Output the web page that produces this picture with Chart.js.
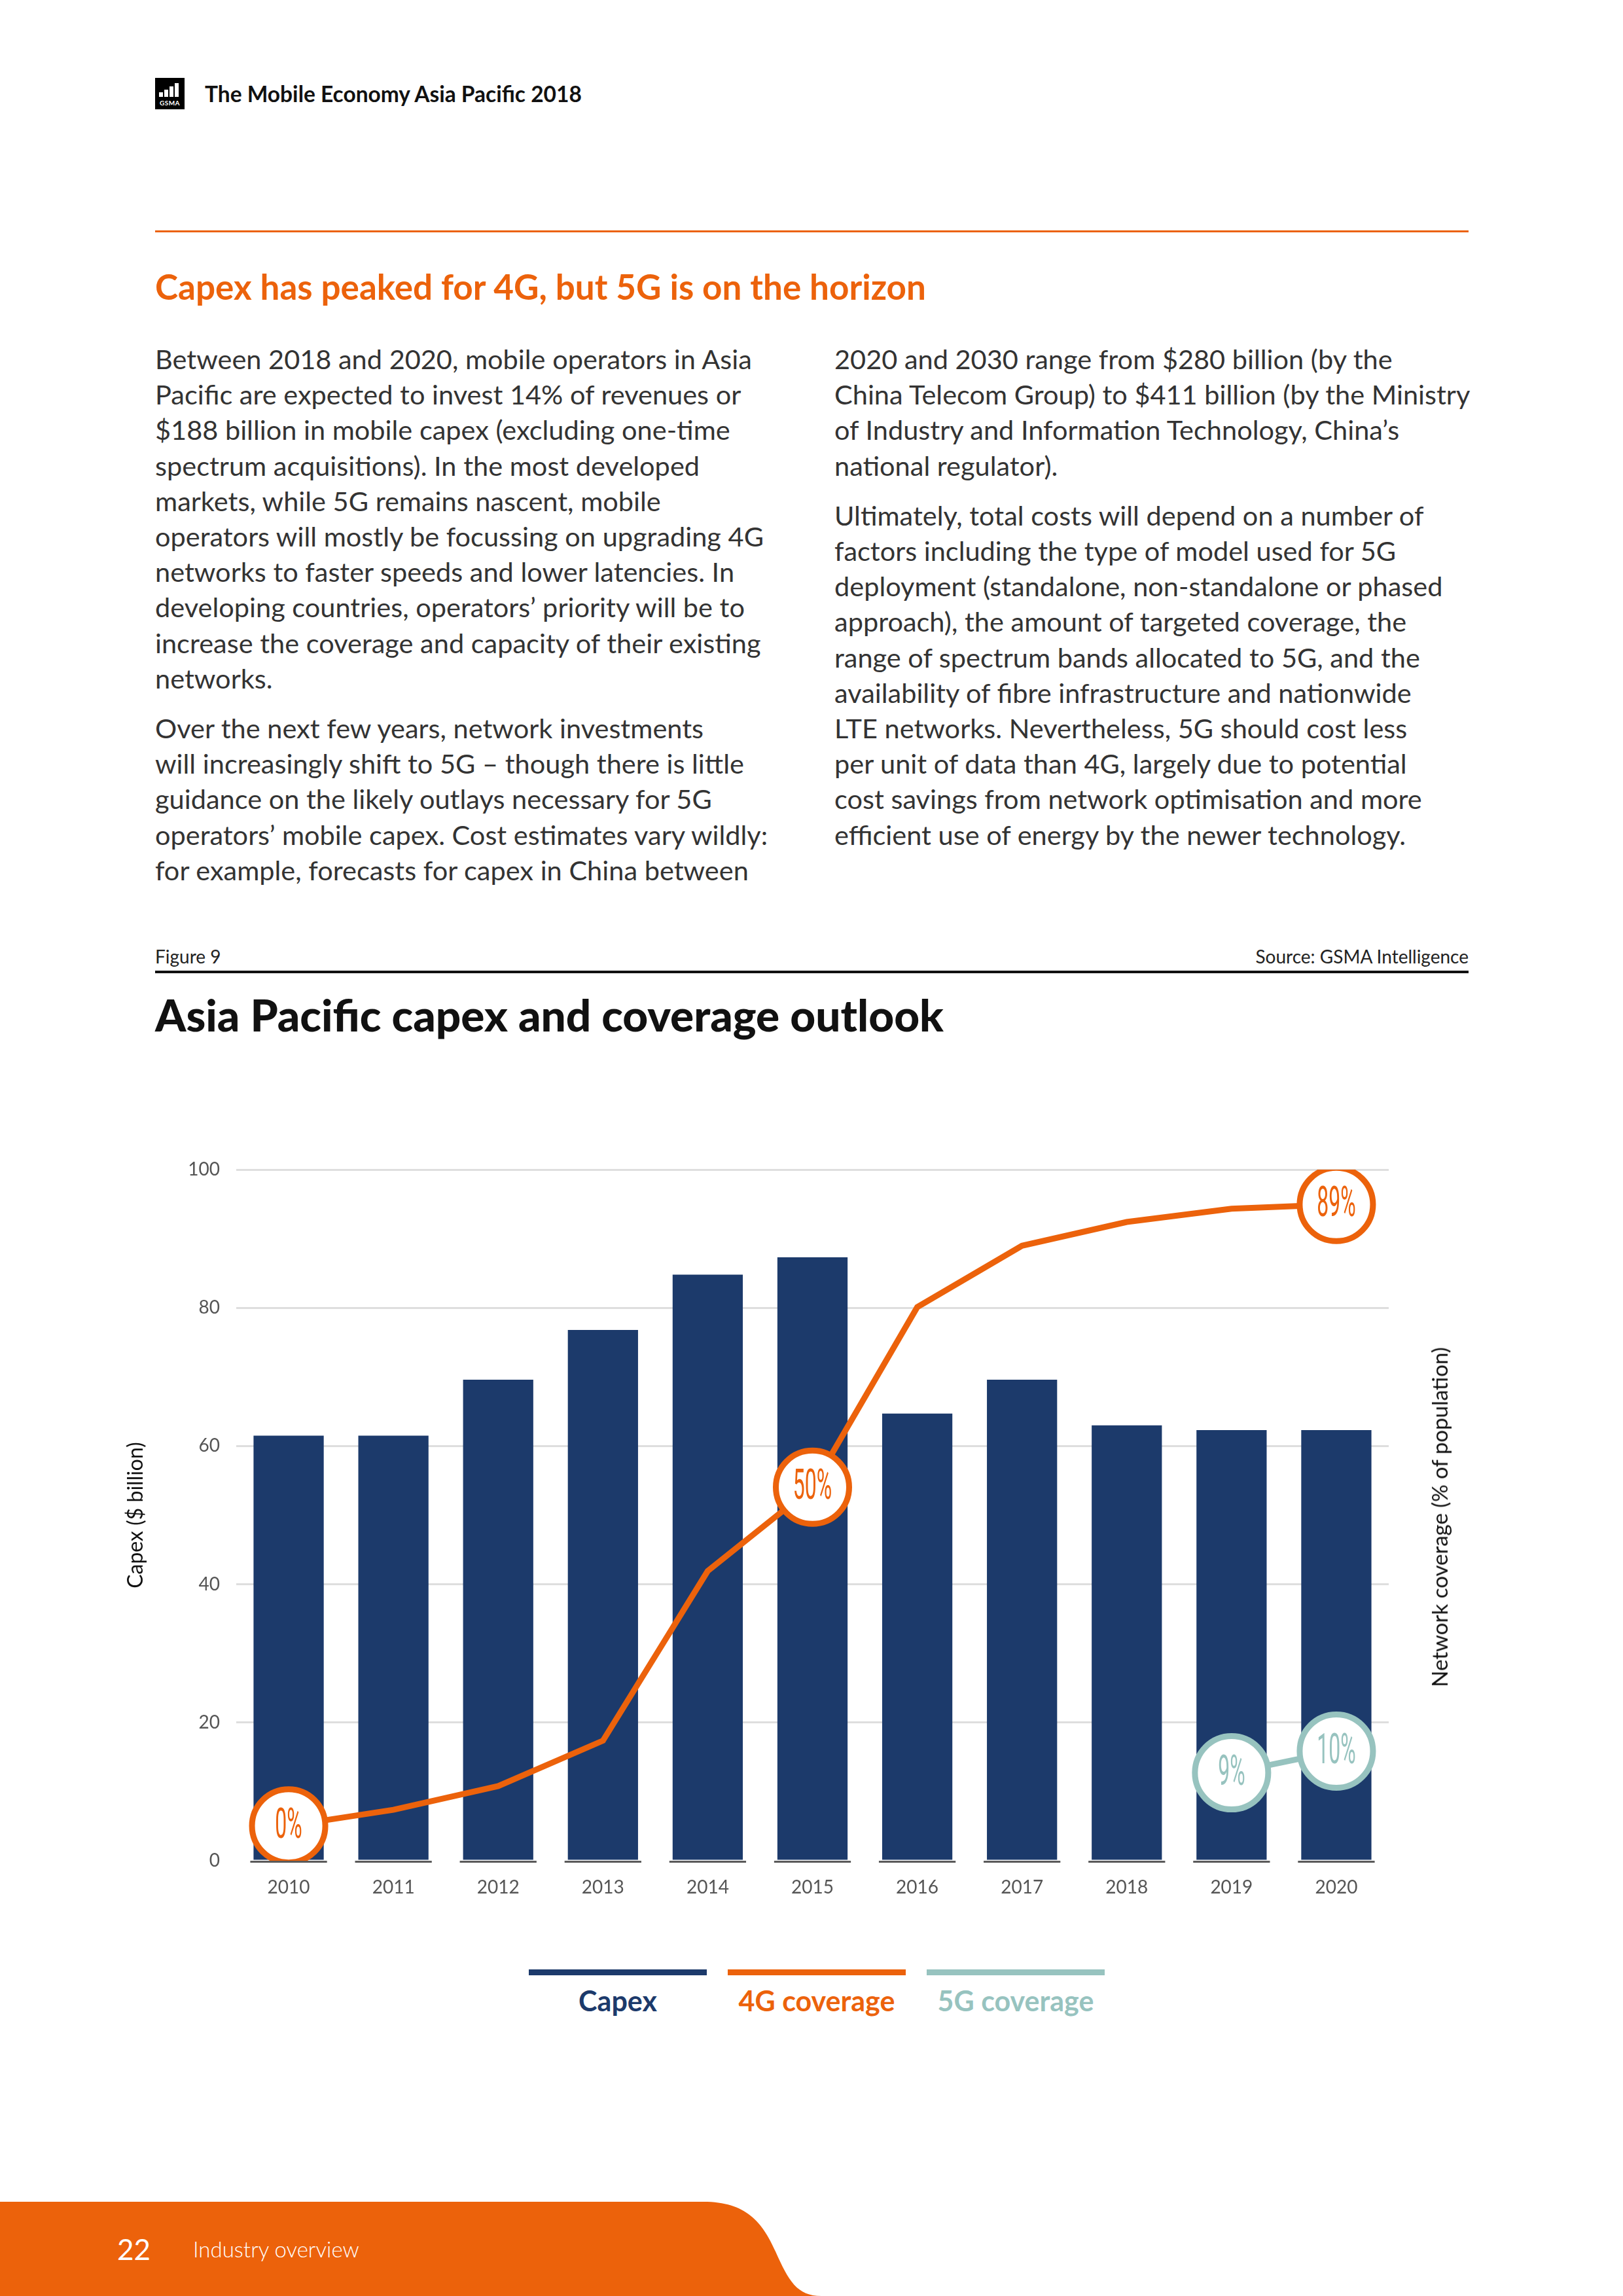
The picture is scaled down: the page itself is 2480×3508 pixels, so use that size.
<!DOCTYPE html>
<html>
<head>
<meta charset="utf-8">
<script src="https://cdn.jsdelivr.net/npm/chart.js@4.4.1/dist/chart.umd.min.js"></script>
<style>
html, body { margin: 0; padding: 0; background: #fff; }
body { width: 2480px; height: 3508px; position: relative; overflow: hidden; font-family: Lato, "Noto Sans", sans-serif; color: #222; }
.abs { position: absolute; }
.logo { left: 237px; top: 119px; width: 45px; height: 48px; background: #000; }
.logo i { position: absolute; bottom: 19px; width: 6px; background: #fff; }
.logo span { position: absolute; left: 0; right: 0; bottom: 4px; text-align: center; color: #fff; font: 700 10px Lato, sans-serif; letter-spacing: 0.5px; }
.header { left: 313px; top: 122px; font-size: 33.5px; font-weight: 700; color: #111; line-height: 42px; }
.rule-o { left: 237px; top: 352px; width: 2007px; height: 3px; background: #ec620b; }
.heading { left: 237px; top: 406px; font-size: 53px; font-weight: 700; color: #ec620b; line-height: 64px; white-space: nowrap; }
.col { top: 521px; width: 1000px; font-size: 41.5px; line-height: 54.2px; color: #333; }
.col p { margin: 0 0 22px 0; white-space: nowrap; }
.fig { top: 1443px; font-size: 28px; color: #222; line-height: 36px; }
.rule-k { left: 237px; top: 1483px; width: 2007px; height: 4px; background: #111; }
.ctitle { left: 237px; top: 1510px; font-size: 67.5px; font-weight: 900; color: #111; line-height: 80px; white-space: nowrap; }
.chartbox { left: 0; top: 1700px; width: 2480px; height: 1300px; }
.ytitle-r { left: 2199px; top: 2318px; transform: translate(-50%, -50%) rotate(-90deg); font-size: 33px; color: #111; white-space: nowrap; }
.legend { left: 808px; top: 3009px; display: flex; gap: 32px; }
.legend .item { width: 272px; text-align: center; }
.legend .sw { height: 9px; }
.legend .lb { margin-top: 14px; font-size: 43px; font-weight: 700; line-height: 50px; }
.footer { left: 0; top: 3350px; }
.pg { left: 179px; top: 3409px; font-size: 44px; color: #fff; line-height: 54px; }
.sec { left: 295px; top: 3415px; font-size: 33px; font-weight: 300; color: #fff; line-height: 42px; }
</style>
</head>
<body>

<div class="abs logo"><i style="left:6px;height:7px"></i><i style="left:14px;height:11px"></i><i style="left:22px;height:16px"></i><i style="left:30px;height:21px"></i><span>GSMA</span></div>
<div class="abs header">The Mobile Economy Asia Pacific 2018</div>
<div class="abs rule-o"></div>
<div class="abs heading">Capex has peaked for 4G, but 5G is on the horizon</div>

<div class="abs col" style="left:237px">
<p>Between 2018 and 2020, mobile operators in Asia<br>Pacific are expected to invest 14% of revenues or<br>$188 billion in mobile capex (excluding one-time<br>spectrum acquisitions). In the most developed<br>markets, while 5G remains nascent, mobile<br>operators will mostly be focussing on upgrading 4G<br>networks to faster speeds and lower latencies. In<br>developing countries, operators’ priority will be to<br>increase the coverage and capacity of their existing<br>networks.</p>
<p>Over the next few years, network investments<br>will increasingly shift to 5G – though there is little<br>guidance on the likely outlays necessary for 5G<br>operators’ mobile capex. Cost estimates vary wildly:<br>for example, forecasts for capex in China between</p>
</div>
<div class="abs col" style="left:1275px">
<p>2020 and 2030 range from $280 billion (by the<br>China Telecom Group) to $411 billion (by the Ministry<br>of Industry and Information Technology, China’s<br>national regulator).</p>
<p>Ultimately, total costs will depend on a number of<br>factors including the type of model used for 5G<br>deployment (standalone, non-standalone or phased<br>approach), the amount of targeted coverage, the<br>range of spectrum bands allocated to 5G, and the<br>availability of fibre infrastructure and nationwide<br>LTE networks. Nevertheless, 5G should cost less<br>per unit of data than 4G, largely due to potential<br>cost savings from network optimisation and more<br>efficient use of energy by the newer technology.</p>
</div>

<div class="abs fig" style="left:237px">Figure 9</div>
<div class="abs fig" style="right:236px">Source: GSMA Intelligence</div>
<div class="abs rule-k"></div>
<div class="abs ctitle">Asia Pacific capex and coverage outlook</div>

<div class="abs chartbox"><canvas id="chart" width="2480" height="1300"></canvas></div>
<div class="abs ytitle-r">Network coverage (% of population)</div>
<div class="abs legend" id="legend"></div>

<svg class="abs footer" width="1300" height="158" viewBox="0 0 1300 158">
  <path d="M0,14 L1075,14 C1140,14 1165,45 1185,90 C1205,135 1218,158 1255,158 L0,158 Z" fill="#ec620b"/>
</svg>
<div class="abs pg">22</div>
<div class="abs sec">Industry overview</div>

<script>
const years = ['2010', '2011', '2012', '2013', '2014', '2015', '2016', '2017', '2018', '2019', '2020'];
const capex = [61.5, 61.5, 69.6, 76.8, 84.8, 87.3, 64.7, 69.6, 63.0, 62.3, 62.3];
const coverage4G = [0, 2.3, 5.7, 12.2, 36.5, 48.5, 74.3, 83.1, 86.5, 88.4, 89];
const coverage5G = [null, null, null, null, null, null, null, null, null, 7.6, 10.7];
const badges4G = ['0%', '', '', '', '', '50%', '', '', '', '', '89%'];
const badges5G = ['', '', '', '', '', '', '', '', '', '9%', '10%'];
const capexTicks = [0, 20, 40, 60, 80, 100];

const seriesNames = ['Capex', '4G coverage', '5G coverage'];
const seriesColors = ['#1c3a6b', '#ec620b', '#97c3bf'];
const badgeSets = [null, badges4G, badges5G];

const FONT = 'Lato, "Noto Sans", sans-serif';

// circle labels and the short baseline under each bar
const chartExtras = {
  id: 'chartExtras',
  beforeDatasetsDraw(chart) {
    const ctx = chart.ctx;
    const base = chart.scales.y.getPixelForValue(0);
    ctx.save();
    ctx.strokeStyle = '#5a5a5a';
    ctx.lineWidth = 3;
    chart.getDatasetMeta(0).data.forEach(bar => {
      ctx.beginPath();
      ctx.moveTo(bar.x - bar.width / 2 - 5, base + 1.5);
      ctx.lineTo(bar.x + bar.width / 2 + 5, base + 1.5);
      ctx.stroke();
    });
    ctx.restore();
  },
  afterDatasetsDraw(chart) {
    const ctx = chart.ctx;
    badgeSets.forEach((labels, i) => {
      if (!labels) return;
      const meta = chart.getDatasetMeta(i);
      labels.forEach((txt, j) => {
        if (!txt) return;
        const pt = meta.data[j];
        ctx.save();
        ctx.translate(pt.x, pt.y + 2);
        ctx.scale(0.5, 1);
        ctx.font = '400 64px Roboto, ' + FONT;
        ctx.fillStyle = seriesColors[i];
        ctx.textAlign = 'center';
        ctx.textBaseline = 'middle';
        ctx.fillText(txt, 0, 0);
        ctx.restore();
      });
    });
  }
};

const ctx = document.getElementById('chart').getContext('2d');
new Chart(ctx, {
  data: {
    labels: years,
    datasets: [
      {
        type: 'bar',
        label: seriesNames[0],
        data: capex,
        backgroundColor: seriesColors[0],
        barPercentage: 0.67,
        categoryPercentage: 1,
        yAxisID: 'y',
        order: 3
      },
      {
        type: 'line',
        label: seriesNames[1],
        data: coverage4G,
        borderColor: seriesColors[1],
        borderWidth: 9,
        tension: 0,
        pointRadius: badges4G.map(b => b ? 56 : 0),
        pointBackgroundColor: '#fff',
        pointBorderColor: seriesColors[1],
        pointBorderWidth: 9,
        yAxisID: 'y1',
        order: 2
      },
      {
        type: 'line',
        label: seriesNames[2],
        data: coverage5G,
        borderColor: seriesColors[2],
        borderWidth: 9,
        tension: 0,
        pointRadius: badges5G.map(b => b ? 56 : 0),
        pointBackgroundColor: '#fff',
        pointBorderColor: seriesColors[2],
        pointBorderWidth: 9,
        yAxisID: 'y1',
        order: 1
      }
    ]
  },
  options: {
    responsive: false,
    animation: false,
    devicePixelRatio: 1,
    layout: { padding: { top: 87, bottom: 57, left: 0, right: 0 } },
    plugins: {
      legend: { display: false },
      tooltip: { enabled: false }
    },
    scales: {
      x: {
        grid: { display: false, drawTicks: false },
        border: { display: false },
        ticks: { color: '#555', font: { size: 28, family: FONT }, padding: 24 },
        afterFit: s => { s.height = 100; }
      },
      y: {
        min: 0,
        max: 100,
        afterBuildTicks: s => { s.ticks = capexTicks.map(v => ({ value: v })); },
        ticks: { color: '#555', font: { size: 28, family: FONT }, padding: 25 },
        grid: {
          color: c => c.tick.value === 0 ? 'rgba(0,0,0,0)' : '#dedede',
          lineWidth: 3,
          drawTicks: false
        },
        border: { display: false },
        title: {
          display: true,
          text: 'Capex ($ billion)',
          color: '#111',
          font: { size: 32, family: FONT },
          padding: { top: 188, bottom: 0 }
        },
        afterFit: s => { s.width = 361; }
      },
      y1: {
        position: 'right',
        min: -5,
        max: 94,
        ticks: { display: false },
        grid: { display: false },
        border: { display: false },
        afterFit: s => { s.width = 358; }
      }
    }
  },
  plugins: [chartExtras]
});

// legend: coloured bar with the series name under it
const legend = document.getElementById('legend');
seriesNames.forEach((name, i) => {
  const item = document.createElement('div');
  item.className = 'item';
  item.innerHTML = '<div class="sw" style="background:' + seriesColors[i] + '"></div>' +
    '<div class="lb" style="color:' + seriesColors[i] + '">' + name + '</div>';
  legend.appendChild(item);
});
</script>
</body>
</html>
